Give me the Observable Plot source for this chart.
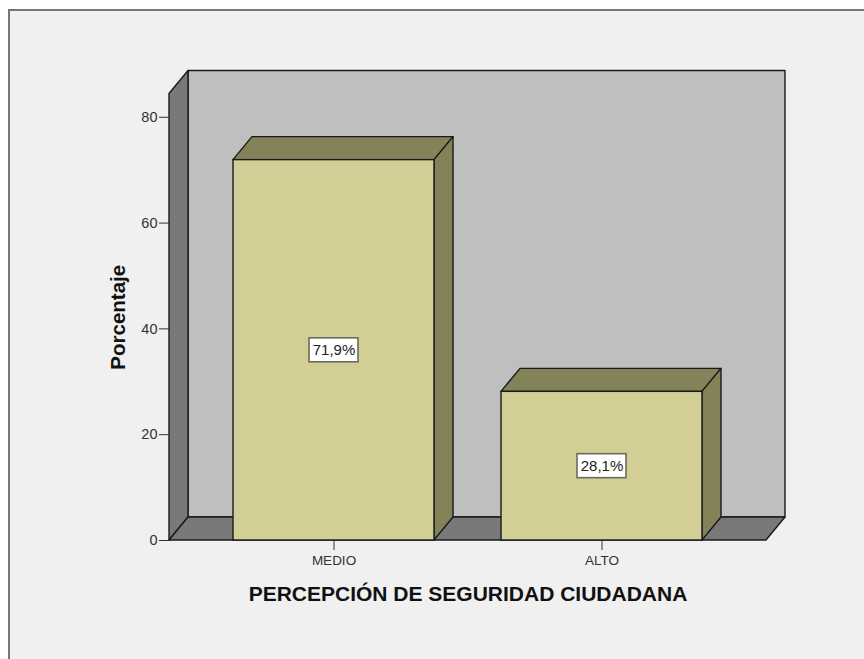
<!DOCTYPE html>
<html><head><meta charset="utf-8">
<script src="https://cdn.jsdelivr.net/npm/d3@7"></script>
<script src="https://cdn.jsdelivr.net/npm/@observablehq/plot@0.6"></script>
<style>
html,body{margin:0;padding:0;background:#fff;width:864px;height:659px;overflow:hidden}
#frame{position:absolute;left:8px;top:9px;right:0;bottom:0;background:#f0f0f0;border-left:2px solid #777;border-top:2px solid #777}
#chart{position:absolute;left:0;top:0}
svg{display:block;background:transparent!important}
</style></head><body><div id="frame"></div><div id="chart"></div>
<script>
const categories = ["MEDIO", "ALTO"];
const percentages = [71.9, 28.1];
const valueLabels = ["71,9%", "28,1%"];
const yTicks = [0, 20, 40, 60, 80];
const xTitle = "PERCEPCIÓN DE SEGURIDAD CIUDADANA";
const yTitle = "Porcentaje";
const yTop = 84.4;
const depth = [19, -23];
const colors = {back:"#bfbfbf", wall:"#797979", front:"#d2ce96", side:"#848259", line:"#1a1a1a"};
const rows = categories.map((c,i)=>({category:c, value:percentages[i], label:valueLabels[i]}));

const NS = "http://www.w3.org/2000/svg";
function poly(parent, pts, fill){
  const p = document.createElementNS(NS,"polygon");
  p.setAttribute("points", pts.map(d=>d.join(",")).join(" "));
  p.setAttribute("fill", fill);
  p.setAttribute("stroke", colors.line);
  p.setAttribute("stroke-width", 1.4);
  p.setAttribute("stroke-linejoin", "round");
  parent.appendChild(p);
}
const shift = ([x,y]) => [x+depth[0], y+depth[1]];
function shell(index, scales, values, dims){
  const g = document.createElementNS(NS,"g");
  const l = dims.marginLeft, r = dims.width-dims.marginRight;
  const y0 = scales.y(0), yT = scales.y(yTop);
  const a=[l,y0], b=[r,y0], c=[l,yT], d=[r,yT];
  poly(g,[shift(a),shift(b),shift(d),shift(c)],colors.back);
  poly(g,[a,shift(a),shift(c),c],colors.wall);
  poly(g,[a,b,shift(b),shift(a)],colors.wall);
  return g;
}
function barDepth(index, scales){
  const g = document.createElementNS(NS,"g");
  const bw = scales.x.bandwidth();
  for (const row of rows){
    const x0 = scales.x(row.category), x1 = x0+bw, yv = scales.y(row.value), y0 = scales.y(0);
    poly(g,[[x0,yv],[x1,yv],shift([x1,yv]),shift([x0,yv])],colors.side);
    poly(g,[[x1,yv],[x1,y0],shift([x1,y0]),shift([x1,yv])],colors.side);
  }
  return g;
}
function boxes(index, scales){
  const g = document.createElementNS(NS,"g");
  const bw = scales.x.bandwidth();
  for (const row of rows){
    const cx = scales.x(row.category)+bw/2, cy = scales.y(row.value/2);
    const rect = document.createElementNS(NS,"rect");
    rect.setAttribute("x",cx-24.5); rect.setAttribute("y",cy-12);
    rect.setAttribute("width",49); rect.setAttribute("height",24);
    rect.setAttribute("fill","#fff"); rect.setAttribute("stroke","#6b6b5a"); rect.setAttribute("stroke-width",1.6);
    g.appendChild(rect);
  }
  return g;
}
const plot = Plot.plot({
  width:864, height:659,
  marginLeft:169, marginRight:98, marginTop:93.5, marginBottom:119,
  style:{background:"transparent", fontFamily:"'Liberation Sans',Arial,sans-serif"},
  x:{type:"band", domain:categories, paddingInner:0.25, paddingOuter:0.236, label:null},
  y:{domain:[0,yTop], label:null},
  marks:[
    shell,
    barDepth,
    Plot.barY(rows,{x:"category", y:"value", fill:colors.front, stroke:colors.line, strokeWidth:1.4}),
    Plot.axisY({ticks:yTicks, tickSize:10, tickPadding:2, fontSize:14.5, color:"#333", label:null}),
    Plot.axisX({tickSize:10, tickPadding:5, fontSize:13.5, color:"#333", label:null}),
    boxes,
    Plot.text(rows,{x:"category", y:d=>d.value/2, text:"label", fontSize:15, fill:"#222"}),
    Plot.text([xTitle],{frameAnchor:"bottom", dy:60, text:d=>d, fontWeight:"bold", fontSize:21, fill:"#111"}),
    Plot.text([yTitle],{frameAnchor:"left", textAnchor:"middle", dx:-51, rotate:-90, text:d=>d, fontWeight:"bold", fontSize:20.5, fill:"#111"})
  ]
});
document.getElementById("chart").appendChild(plot);
</script></body></html>
